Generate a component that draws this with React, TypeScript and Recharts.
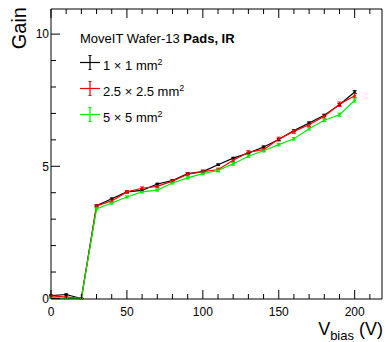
import { ErrorBar, Line, LineChart, XAxis, YAxis } from "recharts";

const volts = [0, 10, 20, 30, 40, 50, 60, 70, 80, 90, 100, 110, 120, 130, 140, 150, 160, 170, 180, 190, 200];
const gain1x1 = [0.11, 0.15, 0.0, 3.51, 3.77, 4.03, 4.09, 4.33, 4.46, 4.72, 4.8, 5.06, 5.31, 5.5, 5.73, 6.01, 6.35, 6.64, 6.93, 7.33, 7.81];
const gain2p5 = [0.1, 0.05, 0.0, 3.5, 3.69, 4.03, 4.17, 4.24, 4.44, 4.7, 4.8, 4.87, 5.23, 5.53, 5.63, 6.03, 6.32, 6.57, 6.89, 7.35, 7.67];
const gain5x5 = [0.03, 0.0, 0.0, 3.39, 3.61, 3.84, 4.03, 4.1, 4.37, 4.56, 4.72, 4.84, 5.09, 5.38, 5.59, 5.82, 6.04, 6.42, 6.74, 6.95, 7.49];
const err1x1 = [0.02, 0.02, 0.01, 0.03, 0.03, 0.03, 0.03, 0.03, 0.03, 0.03, 0.03, 0.03, 0.03, 0.03, 0.04, 0.04, 0.04, 0.04, 0.04, 0.04, 0.05];
const err2p5 = [0.03, 0.03, 0.01, 0.05, 0.05, 0.05, 0.05, 0.05, 0.05, 0.06, 0.06, 0.06, 0.06, 0.06, 0.06, 0.07, 0.07, 0.07, 0.07, 0.08, 0.08];
const err5x5 = [0.02, 0.02, 0.01, 0.04, 0.04, 0.04, 0.04, 0.04, 0.04, 0.04, 0.04, 0.05, 0.05, 0.05, 0.05, 0.05, 0.05, 0.05, 0.05, 0.06, 0.06];

const xTicks = [0, 10, 20, 30, 40, 50, 60, 70, 80, 90, 100, 110, 120, 130, 140, 150, 160, 170, 180, 190, 200, 210];
const xMajor = [0, 50, 100, 150, 200];
const yTicks = [0, 1, 2, 3, 4, 5, 6, 7, 8, 9, 10];
const yMajor = [0, 5, 10];

const series = [
  { key: "g1", err: "e1", color: "#000000", size: "1" },
  { key: "g2", err: "e2", color: "#ff0000", size: "2.5" },
  { key: "g3", err: "e3", color: "#00ee00", size: "5" },
];

const data = volts.map((v, i) => ({
  v,
  g1: gain1x1[i],
  g2: gain2p5[i],
  g3: gain5x5[i],
  e1: err1x1[i],
  e2: err2p5[i],
  e3: err5x5[i],
}));

const FONT = "'Liberation Sans', Arial, Helvetica, sans-serif";

function makeTick(side: "left" | "right" | "top" | "bottom", majors: number[]) {
  return (props: any) => {
    const { x, y, payload } = props;
    const major = majors.includes(payload.value);
    const len = major ? 9 : 5;
    let x2 = x, y2 = y;
    if (side === "left") x2 = x + len;
    if (side === "right") x2 = x - len;
    if (side === "bottom") y2 = y - len;
    if (side === "top") y2 = y + len;
    return (
      <g>
        <line x1={x} y1={y} x2={x2} y2={y2} stroke="#000" strokeWidth={1} />
        {major && side === "left" && (
          <text x={x - 2} y={y + 4.3} textAnchor="end" fontSize={12} fontFamily={FONT} fill="#000">
            {payload.value}
          </text>
        )}
        {major && side === "bottom" && (
          <text x={x} y={y + 17} textAnchor="middle" fontSize={12} fontFamily={FONT} fill="#000">
            {payload.value}
          </text>
        )}
      </g>
    );
  };
}

export default function App() {
  return (
    <div style={{ position: "absolute", left: 0, top: 0, width: 386, height: 342, background: "#fff" }}>
      <LineChart width={386} height={342} data={data} margin={{ top: 8, right: 3, left: 21, bottom: 13 }}>
        <XAxis
          xAxisId="b"
          dataKey="v"
          type="number"
          domain={[0, 218]}
          ticks={xTicks}
          interval={0}
          height={30}
          tickSize={0}
          tickMargin={0}
          tickLine={false}
          axisLine={{ stroke: "#000" }}
          tick={makeTick("bottom", xMajor)}
        />
        <XAxis
          xAxisId="t"
          orientation="top"
          dataKey="v"
          type="number"
          domain={[0, 218]}
          ticks={xTicks}
          interval={0}
          height={1}
          tickSize={0}
          tickMargin={0}
          tickLine={false}
          axisLine={{ stroke: "#000" }}
          tick={makeTick("top", xMajor)}
        />
        <YAxis
          yAxisId="l"
          type="number"
          domain={[0, 10.95]}
          ticks={yTicks}
          interval={0}
          width={30}
          tickSize={0}
          tickMargin={0}
          tickLine={false}
          axisLine={{ stroke: "#000" }}
          tick={makeTick("left", yMajor)}
        />
        <YAxis
          yAxisId="r"
          orientation="right"
          type="number"
          domain={[0, 10.95]}
          ticks={yTicks}
          interval={0}
          width={1}
          tickSize={0}
          tickMargin={0}
          tickLine={false}
          axisLine={{ stroke: "#000" }}
          tick={makeTick("right", yMajor)}
        />
        {series.map((s) => (
          <Line
            key={s.key}
            xAxisId="b"
            yAxisId="l"
            type="linear"
            dataKey={s.key}
            stroke={s.color}
            strokeWidth={1.2}
            dot={{ r: 1.3, fill: s.color, stroke: "none" }}
            activeDot={false}
            isAnimationActive={false}
          >
            <ErrorBar dataKey={s.err} width={2} stroke={s.color} strokeWidth={1} direction="y" />
          </Line>
        ))}
      </LineChart>
      <svg
        width={386}
        height={342}
        style={{ position: "absolute", left: 0, top: 0, pointerEvents: "none" }}
        fontFamily={FONT}
      >
        <text x={26} y={7} transform="rotate(-90 26 7)" textAnchor="end" fontSize={20} fill="#000">
          Gain
        </text>
        <text x={383} y={335} textAnchor="end" fontSize={18} fill="#000">
          V<tspan fontSize={13} dy={5}>bias</tspan>
          <tspan dy={-5}> (V)</tspan>
        </text>
        <text x={80} y={43} fontSize={13} fill="#000">
          MoveIT Wafer-13 <tspan fontWeight="bold">Pads, IR</tspan>
        </text>
        {series.map((s, i) => {
          const cy = 62.5 + i * 26;
          return (
            <g key={s.key}>
              <line x1={80} y1={cy} x2={100} y2={cy} stroke={s.color} strokeWidth={1.2} />
              <line x1={90} y1={cy - 7} x2={90} y2={cy + 7} stroke={s.color} strokeWidth={1.2} />
              <line x1={88.5} y1={cy - 7} x2={91.5} y2={cy - 7} stroke={s.color} strokeWidth={1} />
              <line x1={88.5} y1={cy + 7} x2={91.5} y2={cy + 7} stroke={s.color} strokeWidth={1} />
              <text x={103} y={cy + 7.5} fontSize={13} fill="#000">
                {s.size} × {s.size} mm<tspan fontSize={9} dy={-5}>2</tspan>
              </text>
            </g>
          );
        })}
      </svg>
    </div>
  );
}
